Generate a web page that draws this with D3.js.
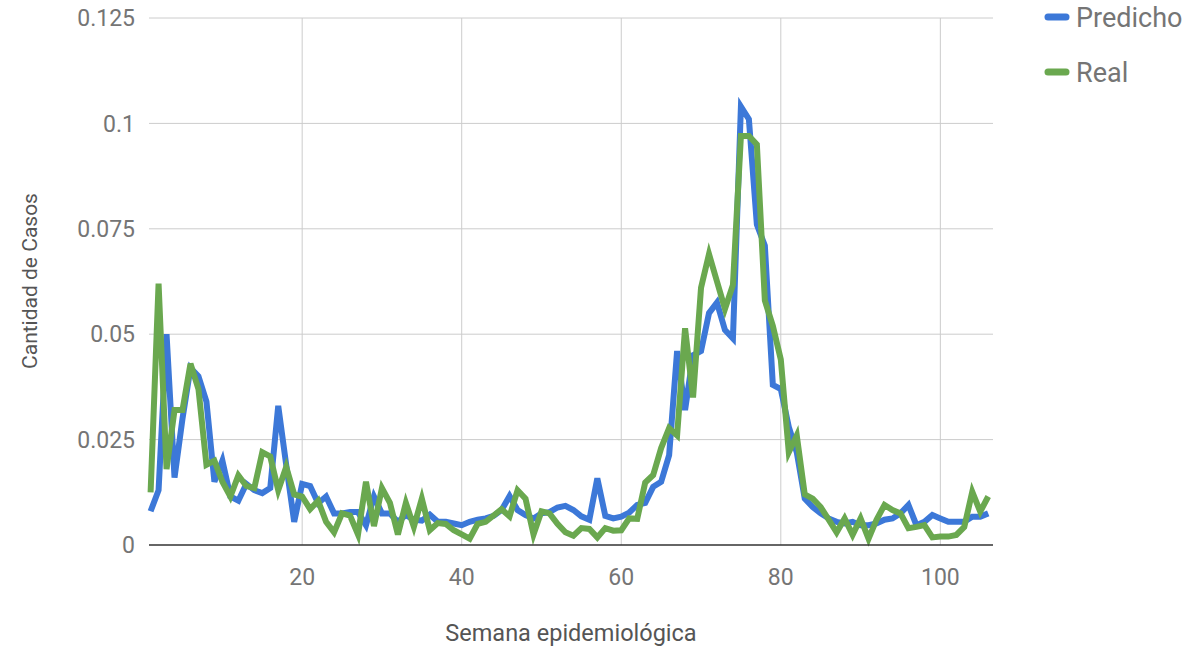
<!DOCTYPE html>
<html>
<head>
<meta charset="utf-8">
<script src="https://cdn.jsdelivr.net/npm/d3@7"></script>
<style>
  body { margin: 0; background: #fff; }
  svg { display: block; font-family: Roboto, "Noto Sans", sans-serif; }
</style>
</head>
<body>
<div id="chart"></div>
<script>
// semanas 1..106
const predicho = [
  0.008, 0.013, 0.050, 0.016, 0.030, 0.042, 0.040, 0.034, 0.015, 0.020,
  0.0115, 0.0105, 0.0145, 0.013, 0.0123, 0.0135, 0.033, 0.019, 0.0055, 0.0145,
  0.014, 0.0099, 0.0115, 0.0075, 0.0075, 0.0078, 0.0078, 0.0047, 0.0115, 0.0075,
  0.0075, 0.0055, 0.0071, 0.006, 0.0058, 0.0072, 0.0055, 0.0055, 0.0051, 0.0047,
  0.0055, 0.006, 0.0063, 0.0069, 0.0083, 0.0116, 0.0083, 0.0071, 0.0063, 0.0075,
  0.0078, 0.0089, 0.0093, 0.0083, 0.0068, 0.006, 0.0158, 0.0069, 0.0063, 0.0067,
  0.0077, 0.0095, 0.0100, 0.0138, 0.015, 0.0213, 0.046, 0.032, 0.045, 0.046,
  0.055, 0.0575, 0.051, 0.049, 0.104, 0.101, 0.076, 0.071, 0.038, 0.037,
  0.028, 0.022, 0.011, 0.009, 0.0075, 0.0063, 0.0055, 0.0051, 0.0055, 0.0047,
  0.0047, 0.0051, 0.006, 0.0063, 0.0075, 0.0095, 0.0047, 0.0055, 0.0071, 0.0063,
  0.0055, 0.0055, 0.0055, 0.0067, 0.0067, 0.0075
];
const real = [
  0.0125, 0.062, 0.018, 0.032, 0.032, 0.043, 0.037, 0.019, 0.020, 0.015,
  0.0115, 0.0165, 0.014, 0.0135, 0.022, 0.021, 0.013, 0.0185, 0.012, 0.0115,
  0.0085, 0.0105, 0.0055, 0.003, 0.0075, 0.007, 0.0025, 0.015, 0.0045, 0.0135,
  0.010, 0.0025, 0.010, 0.0043, 0.011, 0.0035, 0.0052, 0.005, 0.0035, 0.0025,
  0.0015, 0.005, 0.0055, 0.007, 0.0085, 0.0068, 0.013, 0.011, 0.0025, 0.008,
  0.0075, 0.005, 0.003, 0.0022, 0.004, 0.0038, 0.0018, 0.004, 0.0034, 0.0035,
  0.0063, 0.0062, 0.0148, 0.0166, 0.023, 0.0277, 0.026, 0.0514, 0.035, 0.061,
  0.069, 0.0625, 0.056, 0.0617, 0.097, 0.097, 0.095, 0.058, 0.052, 0.044,
  0.022, 0.026, 0.012, 0.011, 0.009, 0.006, 0.003, 0.0063, 0.0024, 0.0063,
  0.0015, 0.006, 0.0095, 0.0083, 0.0075, 0.004, 0.0043, 0.0047, 0.0018, 0.002,
  0.002, 0.0024, 0.0043, 0.0126, 0.0079, 0.0115
];
const semanas = d3.range(1, predicho.length + 1);
const xTicks = [20, 40, 60, 80, 100];
const yTicks = [0, 0.025, 0.05, 0.075, 0.1, 0.125];
const yTickLabels = ["0", "0.025", "0.05", "0.075", "0.1", "0.125"];
const seriesNames = ["Predicho", "Real"];
const colors = ["#3c78d8", "#6aa84f"];

const W = 1195, H = 646;
const plot = {left: 149, right: 993, top: 18, bottom: 545};

const svg = d3.select("#chart").append("svg")
  .attr("width", W).attr("height", H);

const x = d3.scaleLinear().domain([0.8, 106.6]).range([plot.left, plot.right]);
const y = d3.scaleLinear().domain([0, 0.125]).range([plot.bottom, plot.top]);

// grid
svg.append("g").selectAll("line").data(yTicks.slice(1)).join("line")
  .attr("x1", plot.left).attr("x2", plot.right)
  .attr("y1", d => y(d)).attr("y2", d => y(d))
  .attr("stroke", "#cccccc").attr("stroke-width", 1);
svg.append("g").selectAll("line").data(xTicks).join("line")
  .attr("x1", d => x(d)).attr("x2", d => x(d))
  .attr("y1", plot.top).attr("y2", plot.bottom)
  .attr("stroke", "#cccccc").attr("stroke-width", 1);

// tick labels
svg.append("g").selectAll("text").data(yTicks).join("text")
  .attr("x", 135).attr("y", d => y(d)).attr("dy", "0.36em")
  .attr("text-anchor", "end").attr("fill", "#757575").attr("font-size", 23)
  .text((d, i) => yTickLabels[i]);
svg.append("g").selectAll("text").data(xTicks).join("text")
  .attr("x", d => x(d)).attr("y", 585)
  .attr("text-anchor", "middle").attr("fill", "#757575").attr("font-size", 23)
  .text(d => d);

// lines
const line = d3.line().x((d, i) => x(semanas[i])).y(d => y(d));
[predicho, real].forEach((s, i) => {
  svg.append("path").datum(s)
    .attr("fill", "none").attr("stroke", colors[i])
    .attr("stroke-width", 6).attr("stroke-linejoin", "miter")
    .attr("d", line);
});

// baseline
svg.append("line")
  .attr("x1", plot.left).attr("x2", plot.right).attr("y1", y(0)).attr("y2", y(0))
  .attr("stroke", "#333").attr("stroke-width", 1.5);

// axis titles
svg.append("text").attr("x", 571).attr("y", 641)
  .attr("text-anchor", "middle").attr("fill", "#555").attr("font-size", 23.5)
  .text("Semana epidemiológica");
svg.append("text")
  .attr("transform", "translate(37,281) rotate(-90)")
  .attr("text-anchor", "middle").attr("fill", "#555").attr("font-size", 21)
  .text("Cantidad de Casos");

// legend
const leg = svg.append("g").selectAll("g").data(seriesNames).join("g")
  .attr("transform", (d, i) => `translate(1048, ${17 + i * 55})`);
leg.append("line").attr("x1", 0).attr("x2", 18).attr("y1", 0).attr("y2", 0)
  .attr("stroke", (d, i) => colors[i]).attr("stroke-width", 7)
  .attr("stroke-linecap", "round");
leg.append("text").attr("x", 28).attr("dy", "0.36em")
  .attr("fill", "#757575").attr("font-size", 27)
  .text(d => d);
</script>
</body>
</html>
